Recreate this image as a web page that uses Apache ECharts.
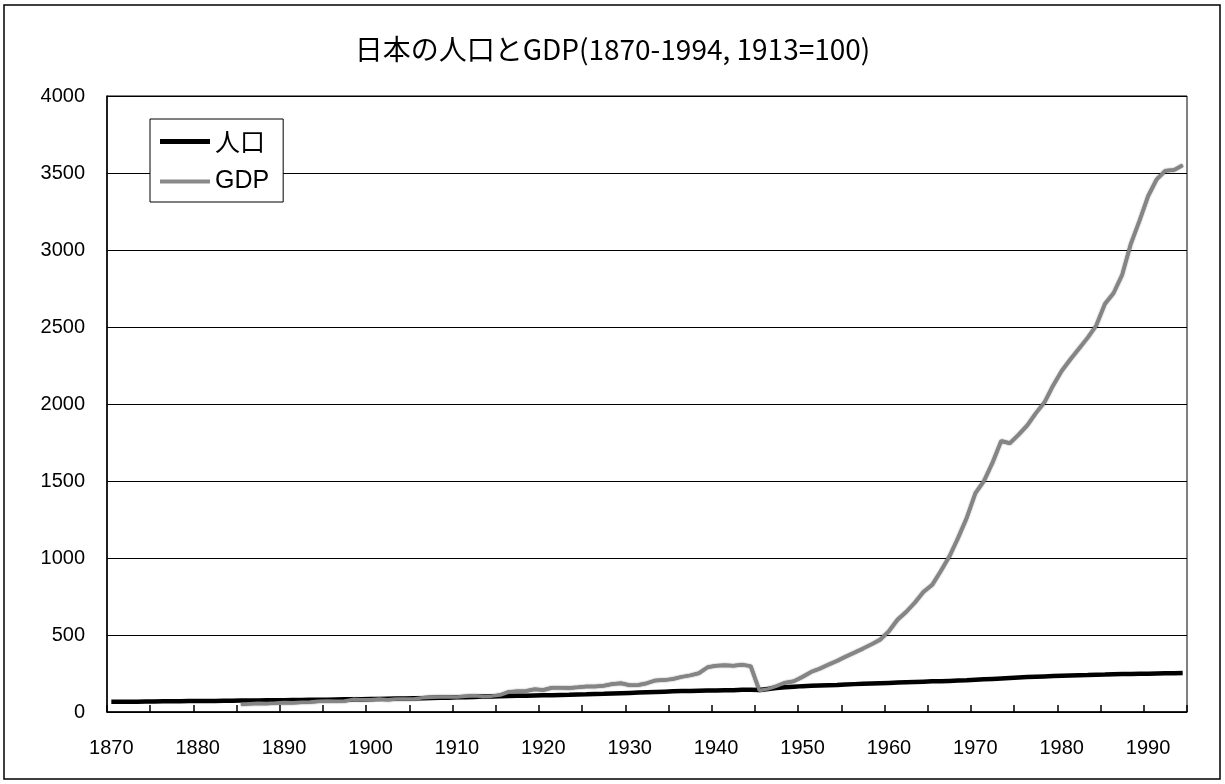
<!DOCTYPE html>
<html>
<head>
<meta charset="utf-8">
<title>日本の人口とGDP</title>
<script src="https://cdn.jsdelivr.net/npm/echarts@6/dist/echarts.min.js"></script>
<style>
  html, body { margin: 0; padding: 0; background: #fff; }
  #chart { width: 1225px; height: 784px; }
</style>
</head>
<body>
<div id="chart"></div>
<script>
// 1870..1994, 1913 = 100
var firstYear = 1870;
var lastYear = 1994;

var years = [];
for (var y = firstYear; y <= lastYear; y++) {
    years.push(String(y));
}

// 人口 (index)
var popValues = [
    66, 66, 67, 67, 68, 68, 69, 69, 70, 71,          // 1870-1879
    71, 72, 72, 73, 73, 74, 74, 75, 76, 76,          // 1880-1889
    77, 78, 78, 79, 79, 80, 81, 82, 82, 83,          // 1890-1899
    84, 85, 86, 87, 88, 89, 90, 91, 92, 93,          // 1900-1909
    95, 96, 98, 100, 101, 103, 104, 105, 106, 107,   // 1910-1919
    108, 109, 111, 112, 114, 115, 117, 118, 120, 122, // 1920-1929
    124, 126, 128, 130, 132, 134, 136, 137, 138, 139, // 1930-1939
    140, 141, 142, 144, 145, 143, 150, 155, 160, 164, // 1940-1949
    168, 170, 172, 174, 176, 179, 181, 183, 185, 187, // 1950-1959
    189, 191, 193, 195, 197, 199, 200, 202, 204, 206, // 1960-1969
    209, 212, 215, 218, 221, 224, 227, 229, 231, 233, // 1970-1979
    235, 237, 239, 240, 242, 243, 245, 246, 247, 248, // 1980-1989
    249, 250, 251, 252, 253                          // 1990-1994
];

// GDP (index), no data before 1885
var gdpValues = [
    null, null, null, null, null, null, null, null, null, null, // 1870-1879
    null, null, null, null, null, 50, 54, 57, 55, 58,           // 1880-1889
    62, 60, 64, 65, 70, 72, 70, 71, 82, 79,                     // 1890-1899
    80, 84, 79, 84, 85, 84, 93, 96, 97, 97,                     // 1900-1909
    98, 102, 105, 100, 103, 110, 130, 134, 136, 148,            // 1910-1919
    143, 157, 157, 156, 160, 165, 166, 170, 182, 187,           // 1920-1929
    174, 175, 187, 205, 207, 214, 228, 238, 252, 290,           // 1930-1939
    300, 303, 301, 307, 298, 140, 150, 168, 190, 200,           // 1940-1949
    228, 260, 282, 308, 332, 360, 386, 412, 440, 470,           // 1950-1959
    525, 600, 650, 710, 780, 825, 915, 1010, 1130, 1260,        // 1960-1969
    1420, 1500, 1620, 1760, 1745, 1800, 1860, 1940, 2010, 2120, // 1970-1979
    2215, 2290, 2360, 2430, 2510, 2650, 2720, 2840, 3040, 3190, // 1980-1989
    3350, 3460, 3515, 3520, 3550                                // 1990-1994
];

var yTicks = [0, 500, 1000, 1500, 2000, 2500, 3000, 3500, 4000];

var numFont = "'Liberation Sans', Arial, sans-serif";
var jpFont = "'Noto Sans CJK JP', 'Liberation Sans', sans-serif";

var chart = echarts.init(document.getElementById('chart'), null, { renderer: 'canvas' });

chart.setOption({
    backgroundColor: '#fff',
    animation: false,
    title: {
        text: '日本の人口とGDP(1870-1994, 1913=100)',
        left: 'center',
        top: 30,
        textStyle: { fontFamily: jpFont, fontSize: 28, fontWeight: 'normal', color: '#000' }
    },
    graphic: [{
        type: 'rect',
        shape: { x: 4, y: 5, width: 1216, height: 774 },
        style: { fill: 'none', stroke: '#000', lineWidth: 1.5 },
        silent: true
    }],
    legend: {
        orient: 'vertical',
        left: 150,
        top: 119,
        padding: [10, 14, 8, 10],
        itemGap: 15,
        itemWidth: 50,
        itemHeight: 24,
        borderColor: '#000',
        borderWidth: 1,
        backgroundColor: '#fff',
        textStyle: { fontFamily: jpFont, fontSize: 25, color: '#000' },
        data: [
            { name: '人口', icon: 'path://M0,0 L50,0 L50,5 L0,5 Z', itemStyle: { color: '#000' } },
            { name: 'GDP', icon: 'path://M0,0 L50,0 L50,4 L0,4 Z', itemStyle: { color: '#8a8a8a' },
              textStyle: { fontFamily: numFont, fontSize: 25 } }
        ]
    },
    grid: {
        left: 107,
        right: 38,
        top: 96,
        bottom: 72,
        show: true,
        borderColor: '#000',
        borderWidth: 1
    },
    xAxis: {
        type: 'category',
        data: years,
        boundaryGap: true,
        axisLine: { lineStyle: { color: '#000', width: 1.5 } },
        axisTick: { show: true, inside: true, length: 7, interval: 4, lineStyle: { color: '#000', width: 1.5 } },
        axisLabel: { interval: 9, margin: 26, fontFamily: numFont, fontSize: 20, color: '#000' },
        splitLine: { show: false }
    },
    yAxis: {
        type: 'value',
        min: yTicks[0],
        max: yTicks[yTicks.length - 1],
        interval: 500,
        axisLine: { show: true, lineStyle: { color: '#000', width: 1.5 } },
        axisTick: { show: false },
        axisLabel: {
            margin: 22, fontFamily: numFont, fontSize: 20, color: '#000',
            formatter: function (v) { return String(v); }
        },
        splitLine: { show: true, lineStyle: { color: '#000', width: 1 } }
    },
    series: [
        {
            name: '人口',
            type: 'line',
            data: popValues,
            symbol: 'none',
            lineStyle: { color: '#000', width: 4.5 },
            itemStyle: { color: '#000' }
        },
        {
            name: 'GDP',
            type: 'line',
            data: gdpValues,
            symbol: 'none',
            lineStyle: { color: '#858585', width: 3.5, shadowColor: 'rgba(0,0,0,0.7)', shadowBlur: 1.5 },
            itemStyle: { color: '#858585' }
        }
    ]
});
</script>
</body>
</html>
